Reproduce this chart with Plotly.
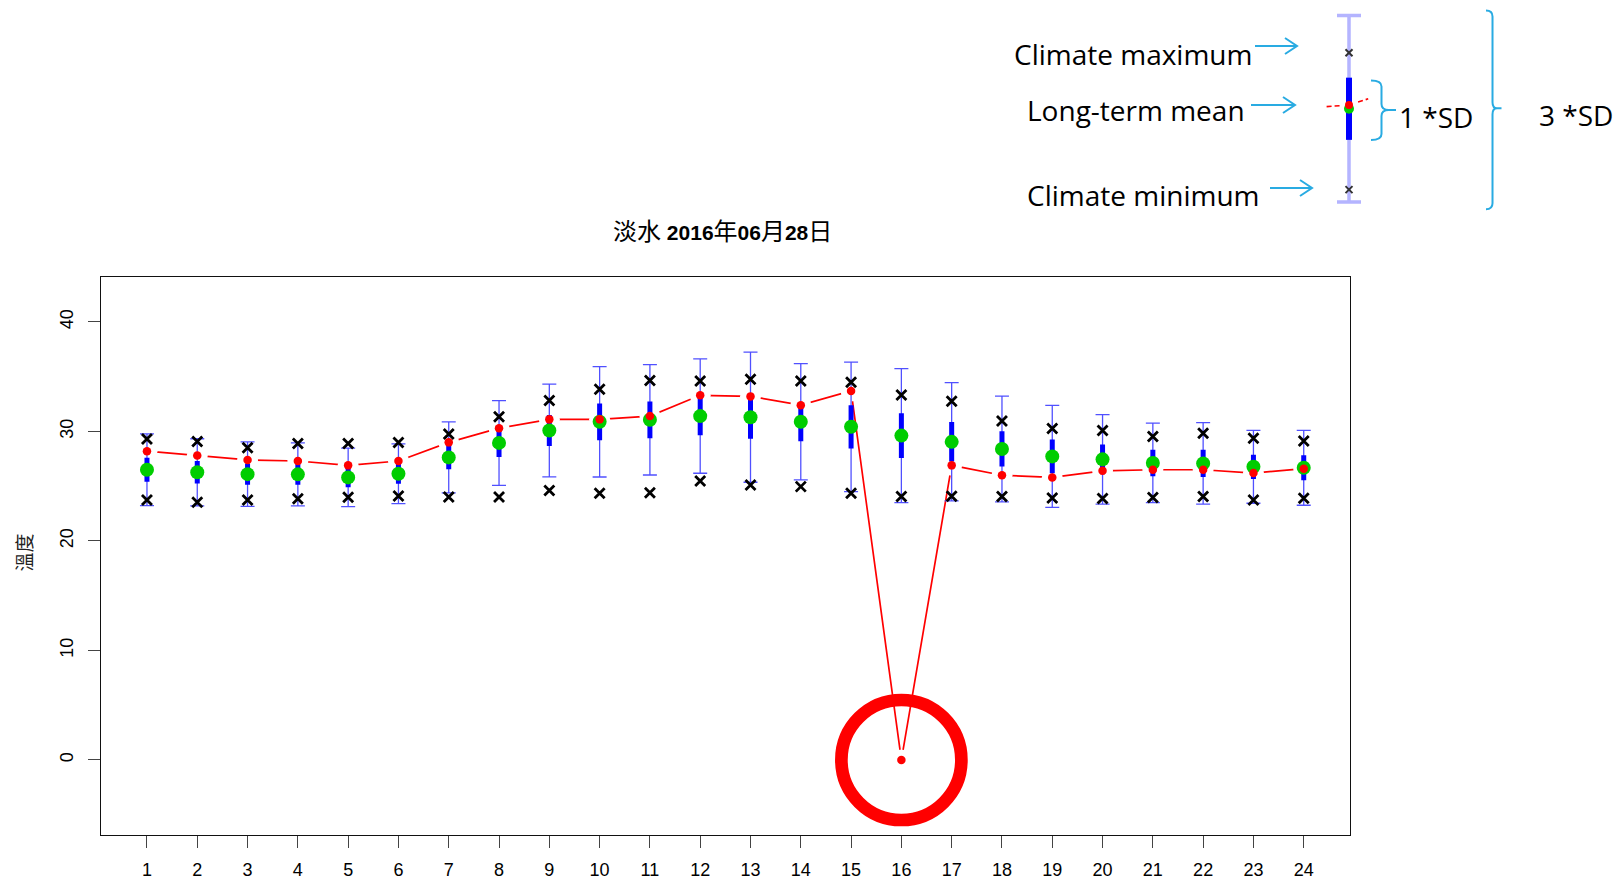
import plotly.graph_objects as go

W, H = 1618, 879

# ---------------- data ----------------
hours = list(range(1, 25))
current = [28.2, 27.8, 27.4, 27.3, 26.9, 27.3, 29.0, 30.3, 31.1, 31.1, 31.4, 33.3,
           33.2, 32.4, 33.7, 0.0, 26.9, 26.0, 25.8, 26.4, 26.5, 26.5, 26.2, 26.6]
clim_mean = [26.5, 26.27, 26.1, 26.08, 25.8, 26.13, 27.63, 28.95, 30.08, 30.88, 31.06, 31.4,
             31.3, 30.88, 30.42, 29.62, 29.05, 28.4, 27.72, 27.45, 27.12, 27.08, 26.77, 26.68]
clim_sd = [1.09, 1.02, 0.98, 0.96, 0.89, 0.91, 1.08, 1.29, 1.41, 1.68, 1.68, 1.74,
           1.98, 1.77, 1.97, 2.04, 1.80, 1.61, 1.55, 1.36, 1.21, 1.24, 1.11, 1.14]
clim_max = [29.3, 29.07, 28.5, 28.9, 28.9, 28.98, 29.77, 31.35, 32.82, 33.85, 34.64, 34.6,
            34.76, 34.6, 34.49, 33.33, 32.75, 30.96, 30.26, 30.08, 29.53, 29.83, 29.38, 29.13]
clim_min = [23.74, 23.53, 23.74, 23.86, 23.98, 24.1, 24.01, 24.01, 24.6, 24.35, 24.41, 25.48,
            25.11, 24.96, 24.35, 24.05, 24.08, 24.05, 23.93, 23.87, 23.96, 24.05, 23.74, 23.9]
y_ticks = [0, 10, 20, 30, 40]
y_title = "溫度"


def cjk(s):
    return f"<span style='font-size:24px'>{s}</span>"


title_text = (cjk("淡水") + " <b>2016</b>" + cjk("年") + "<b>06</b>" + cjk("月")
              + "<b>28</b>" + cjk("日"))

# key (legend inset) sample, in SD units
key_mean = [0.0]
key_sd = [1.0]
key_current = [0.12]
key_max = [1.8]
key_min = [-2.6]
key_line_x = [-0.56, 0.0, 0.48]
key_line_y = [0.07, 0.12, 0.32]

RED = "#ff0000"
GREEN = "#00cd00"
BLUE = "#0000ff"
CYAN = "#29abe2"

fig = go.Figure()

# ---------------- main chart ----------------
fig.add_trace(go.Scatter(x=hours, y=current, mode="lines",
                         line=dict(color=RED, width=1.7), hoverinfo="skip"))
# white gaps around points (type="b" look)
fig.add_trace(go.Scatter(x=hours, y=current, mode="markers",
                         marker=dict(size=21, color="white"), hoverinfo="skip"))
# 3*SD thin bars
fig.add_trace(go.Scatter(x=hours, y=clim_mean, mode="markers",
                         marker=dict(size=1, color="rgba(0,0,0,0)"),
                         error_y=dict(type="data", array=[3 * s for s in clim_sd],
                                      color="rgb(80,80,255)", thickness=1.3, width=7),
                         hoverinfo="skip"))
# 1*SD thick bars
fig.add_trace(go.Scatter(x=hours, y=clim_mean, mode="markers",
                         marker=dict(size=1, color="rgba(0,0,0,0)"),
                         error_y=dict(type="data", array=clim_sd,
                                      color=BLUE, thickness=5, width=0),
                         hoverinfo="skip"))
# climate max / min
fig.add_trace(go.Scatter(x=hours, y=clim_max, mode="markers",
                         marker=dict(symbol="x-thin", size=10, color="black",
                                     line=dict(width=2.8, color="black")),
                         hoverinfo="skip"))
fig.add_trace(go.Scatter(x=hours, y=clim_min, mode="markers",
                         marker=dict(symbol="x-thin", size=10, color="black",
                                     line=dict(width=2.8, color="black")),
                         hoverinfo="skip"))
# long-term mean
fig.add_trace(go.Scatter(x=hours, y=clim_mean, mode="markers",
                         marker=dict(size=14, color=GREEN), hoverinfo="skip"))
# current values
fig.add_trace(go.Scatter(x=hours, y=current, mode="markers",
                         marker=dict(size=8.5, color=RED), hoverinfo="skip"))
# anomaly ring (outside 3*SD)
anom_x = [h for h, c, m, s in zip(hours, current, clim_mean, clim_sd) if abs(c - m) > 3 * s]
anom_y = [c for h, c, m, s in zip(hours, current, clim_mean, clim_sd) if abs(c - m) > 3 * s]
fig.add_trace(go.Scatter(x=anom_x, y=anom_y, mode="markers",
                         marker=dict(symbol="circle-open", size=120, color=RED,
                                     line=dict(width=12.7, color=RED)),
                         hoverinfo="skip", cliponaxis=False))

# ---------------- key inset ----------------
kx = [0.0]
fig.add_trace(go.Scatter(x=key_line_x, y=key_line_y, mode="lines", xaxis="x2", yaxis="y2",
                         line=dict(color=RED, width=1.6, dash="5px,3px"), hoverinfo="skip"))
fig.add_trace(go.Scatter(x=kx, y=key_current, mode="markers", xaxis="x2", yaxis="y2",
                         marker=dict(size=15, color="white"), hoverinfo="skip"))
fig.add_trace(go.Scatter(x=kx, y=key_mean, mode="markers", xaxis="x2", yaxis="y2",
                         marker=dict(size=1, color="rgba(0,0,0,0)"),
                         error_y=dict(type="data", array=[3 * s for s in key_sd],
                                      color="#b4b4ff", thickness=3.5, width=12),
                         hoverinfo="skip"))
fig.add_trace(go.Scatter(x=kx, y=key_mean, mode="markers", xaxis="x2", yaxis="y2",
                         marker=dict(size=1, color="rgba(0,0,0,0)"),
                         error_y=dict(type="data", array=key_sd, color=BLUE, thickness=6, width=0),
                         hoverinfo="skip"))
fig.add_trace(go.Scatter(x=kx * 2, y=key_max + key_min, mode="markers", xaxis="x2", yaxis="y2",
                         marker=dict(symbol="x-thin", size=7, color="#333",
                                     line=dict(width=2, color="#333")),
                         hoverinfo="skip"))
fig.add_trace(go.Scatter(x=kx, y=key_mean, mode="markers", xaxis="x2", yaxis="y2",
                         marker=dict(size=10, color=GREEN), hoverinfo="skip"))
fig.add_trace(go.Scatter(x=kx, y=key_current, mode="markers", xaxis="x2", yaxis="y2",
                         marker=dict(size=8, color=RED), hoverinfo="skip"))


def P(x, y):
    return f"{x / W:.5f},{1 - y / H:.5f}"


shapes = []


def arrow(x0, x1, y):
    path = (f"M{P(x0, y)} L{P(x1, y)} M{P(x1 - 12, y - 8)} L{P(x1, y)} L{P(x1 - 12, y + 8)}")
    shapes.append(dict(type="path", xref="paper", yref="paper", path=path,
                       line=dict(color=CYAN, width=2)))


arrow(1255, 1297, 46)
arrow(1251, 1295, 105)
arrow(1270, 1312, 188)


def brace(xl, xv, xt, ytop, ymid, ybot):
    r = 6
    path = (f"M{P(xl, ytop)} Q{P(xv, ytop)} {P(xv, ytop + r)} L{P(xv, ymid - r)} "
            f"Q{P(xv, ymid)} {P(xv + (xt - xv) * 0.5, ymid)} L{P(xt, ymid)} "
            f"M{P(xv + (xt - xv) * 0.5, ymid)} Q{P(xv, ymid)} {P(xv, ymid + r)} "
            f"L{P(xv, ybot - r)} Q{P(xv, ybot)} {P(xl, ybot)}")
    shapes.append(dict(type="path", xref="paper", yref="paper", path=path,
                       line=dict(color=CYAN, width=2)))


brace(1371, 1381.5, 1396, 80.5, 110, 140)
brace(1486, 1492.5, 1501.5, 10.5, 108.3, 209.3)

annotations = []
KEYFONT = dict(family="Open Sans, Noto Sans, sans-serif", size=28, color="black")
for txt, xr, yc in [("Climate maximum", 1254, 54), ("Long-term mean", 1247, 110),
                    ("Climate minimum", 1261, 195)]:
    annotations.append(dict(text=txt, x=xr / W, y=1 - yc / H, xref="paper", yref="paper",
                            xanchor="right", yanchor="middle", showarrow=False, font=KEYFONT))
for txt, xl, yc in [("1 *SD", 1397, 117), ("3 *SD", 1537, 115)]:
    annotations.append(dict(text=txt, x=xl / W, y=1 - yc / H, xref="paper", yref="paper",
                            xanchor="left", yanchor="middle", showarrow=False, font=KEYFONT))

annotations.append(dict(text=title_text, x=722 / W, y=1 - 231 / H, xref="paper", yref="paper",
                        xanchor="center", yanchor="middle", showarrow=False,
                        font=dict(family="Liberation Sans, Noto Sans CJK TC", size=21, color="black")))
annotations.append(dict(text=y_title, x=22.5 / W, y=1 - 553 / H, xref="paper", yref="paper",
                        xanchor="center", yanchor="middle", showarrow=False, textangle=-90,
                        font=dict(family="Noto Sans CJK TC", size=19, color="#222")))

fig.update_layout(
    width=W, height=H,
    margin=dict(l=0, r=0, t=0, b=0),
    paper_bgcolor="white", plot_bgcolor="white",
    showlegend=False,
    shapes=shapes,
    annotations=annotations,
    xaxis=dict(domain=[100.7 / W, 1350 / W], range=[0.08, 24.92],
               tickvals=hours, ticktext=[str(h) for h in hours],
               ticks="outside", ticklen=12, tickcolor="#444", tickwidth=1,
               showline=True, mirror=True, linecolor="#111", linewidth=1,
               showgrid=False, zeroline=False, automargin=False,
               ticklabelstandoff=6,
               tickfont=dict(family="Liberation Sans, Arial", size=18, color="black")),
    yaxis=dict(domain=[44 / H, 602 / H], range=[-6.85, 44.1],
               tickvals=y_ticks, ticktext=[str(v) for v in y_ticks], tickangle=-90,
               ticks="outside", ticklen=12, tickcolor="#444", tickwidth=1,
               showline=True, mirror=True, linecolor="#111", linewidth=1,
               showgrid=False, zeroline=False, automargin=False,
               ticklabelstandoff=8,
               tickfont=dict(family="Liberation Sans, Arial", size=18, color="black")),
    xaxis2=dict(domain=[1309 / W, 1389 / W], range=[-1, 1], visible=False, anchor="y2"),
    yaxis2=dict(domain=[1 - 215 / H, 1], range=[-3.416, 3.497], visible=False, anchor="x2"),
)

fig.write_html("out.html")
